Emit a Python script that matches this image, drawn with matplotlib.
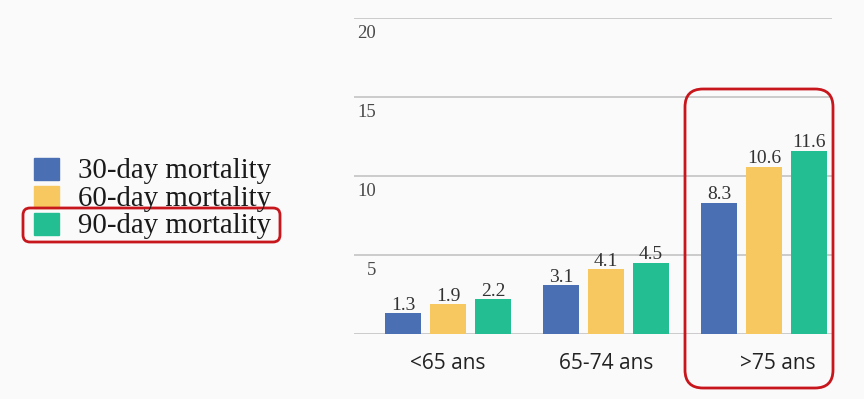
import matplotlib.pyplot as plt
import numpy as np
from matplotlib.patches import FancyBboxPatch, Rectangle
from matplotlib.transforms import ScaledTranslation

groups = ["<65 ans", "65-74 ans", ">75 ans"]
series = ["30-day mortality", "60-day mortality", "90-day mortality"]
values = [
    [1.3, 3.1, 8.3],
    [1.9, 4.1, 10.6],
    [2.2, 4.5, 11.6],
]
colors = ["#4a6fb2", "#f6c85f", "#23bf92"]
y_ticks = [5, 10, 15, 20]

W, H = 864, 399
fig = plt.figure(figsize=(W / 100, H / 100), dpi=100)
fig.patch.set_facecolor("#fafafa")

# main bar axes (pixel box: x 354-832, y 18-334)
ax = fig.add_axes([354 / W, (H - 334) / H, 478 / W, 316 / H])
ax.set_facecolor("#fafafa")

x = np.arange(len(groups))
step = 45 / 158
bw = 36 / 158
for i, (name, vals, c) in enumerate(zip(series, values, colors)):
    pos = x + (i - 1) * step
    ax.bar(pos, vals, width=bw, color=c, label=name, zorder=3)
    for p, v in zip(pos, vals):
        ax.text(p, v + 0.22, f"{v}", ha="center", va="baseline",
                fontsize=14, family="Liberation Serif", color="#333333")

ax.set_xlim(-0.595, 2.43)
ax.set_ylim(0, 20)
ax.set_yticks([0] + y_ticks)
ax.yaxis.grid(True, color="#c8c8c8", linewidth=1.3, zorder=0)
ax.tick_params(axis="y", length=0, labelleft=False)
for t in y_ticks:
    ax.text(22 / 478, t - 0.45, str(t), transform=ax.get_yaxis_transform(),
            ha="right", va="top", fontsize=13.5, family="Liberation Serif",
            color="#4a4a4a")
ax.set_xticks(x)
ax.set_xticklabels(groups, fontsize=15, family="Open Sans", color="#222222")
ax.tick_params(axis="x", length=0, pad=14)
last = ax.get_xticklabels()[-1]
last.set_transform(last.get_transform() + ScaledTranslation(0.14, 0, fig.dpi_scale_trans))
for s in ax.spines.values():
    s.set_visible(False)

# overlay in pixel units for legend and red highlight boxes
ov = fig.add_axes([0, 0, 1, 1], facecolor="none")
ov.set_xlim(0, W)
ov.set_ylim(H, 0)
ov.axis("off")
for i, (name, c) in enumerate(zip(series, colors)):
    y0 = 158 + i * 27.5
    ov.add_patch(Rectangle((34, y0), 25, 22, color=c))
    ov.text(78, y0 + 20, name, ha="left", va="baseline", fontsize=20.8,
            family="Liberation Serif", color="#1a1a1a")

red = "#c8161d"
ov.add_patch(FancyBboxPatch((23, 208), 257, 34,
                            boxstyle="round,pad=0,rounding_size=7",
                            fill=False, edgecolor=red, linewidth=2))
ov.add_patch(FancyBboxPatch((685, 89), 148, 299,
                            boxstyle="round,pad=0,rounding_size=18",
                            fill=False, edgecolor=red, linewidth=2))

fig.savefig("out.png", dpi=100, facecolor=fig.get_facecolor())
